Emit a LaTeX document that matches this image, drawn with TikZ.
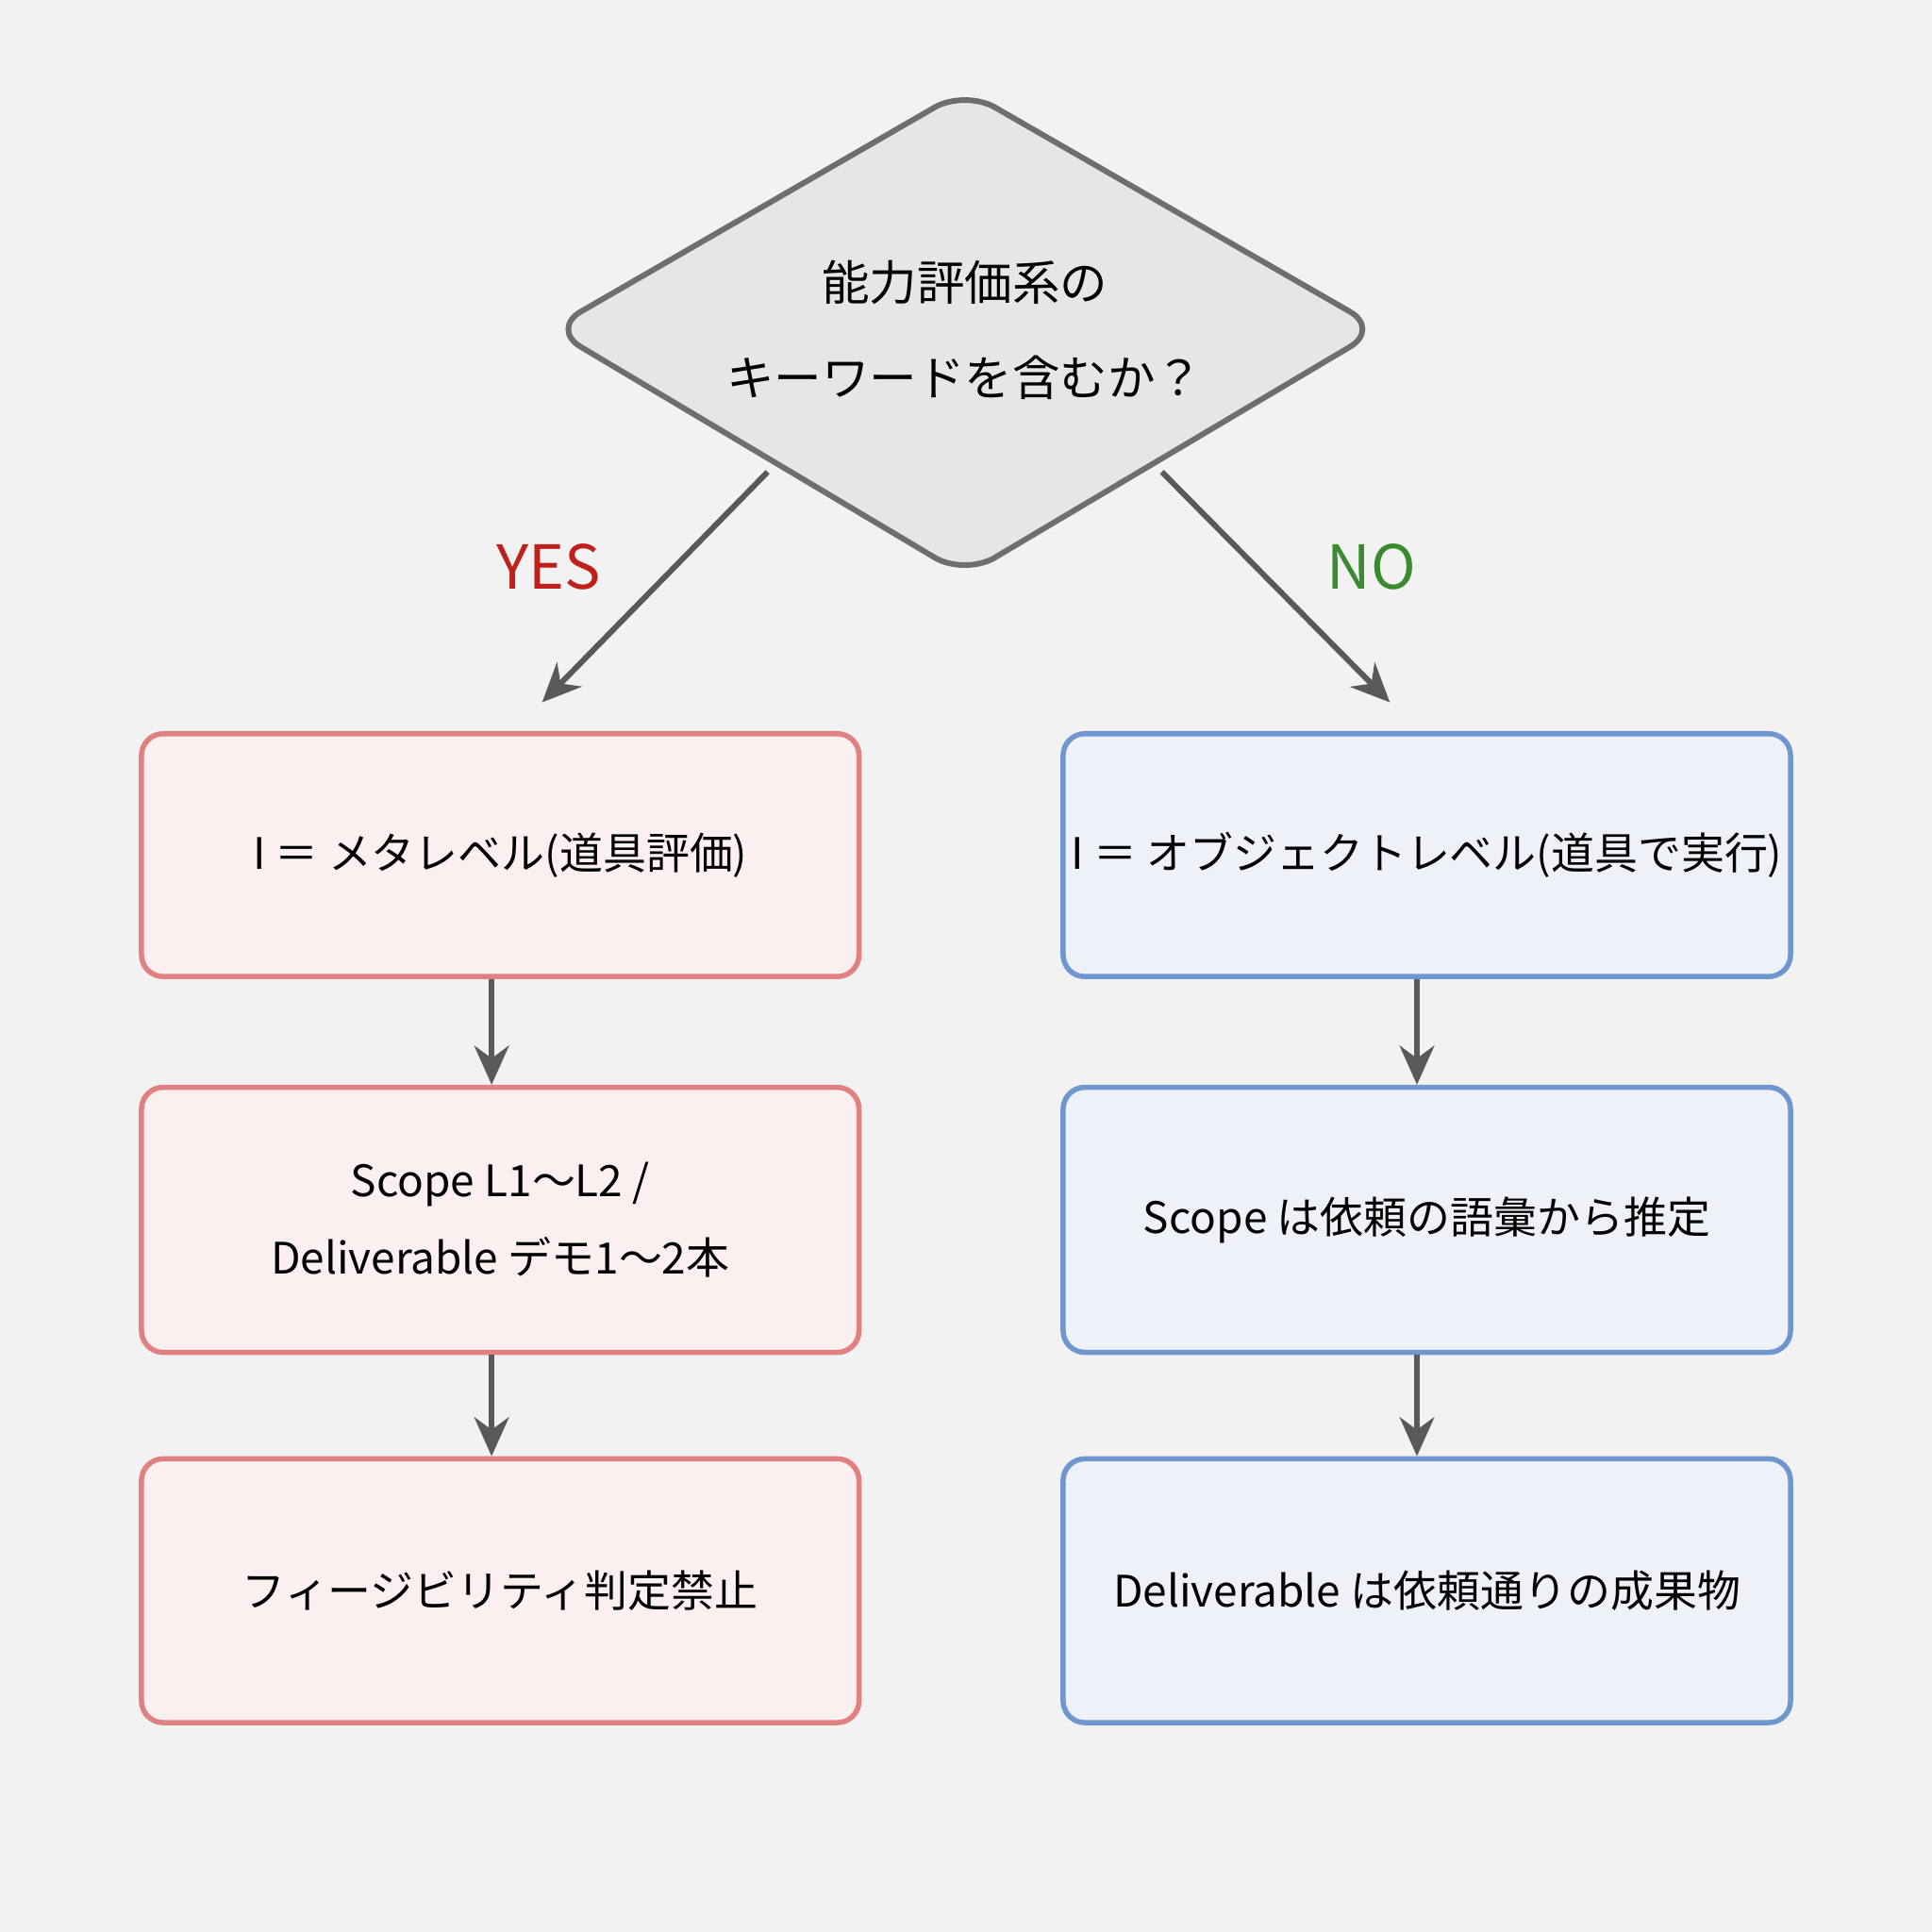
\documentclass[tikz,border=0pt]{standalone}
\usepackage{fontspec}
\setmainfont{Noto Sans CJK JP}
\usetikzlibrary{positioning,arrows.meta}
\definecolor{bg}{HTML}{F2F2F2}
\definecolor{qfill}{HTML}{E6E6E6}
\definecolor{qdraw}{HTML}{6E6E6E}
\definecolor{rdraw}{HTML}{E08080}
\definecolor{rfill}{HTML}{FBEFEF}
\definecolor{bdraw}{HTML}{7096D0}
\definecolor{bfill}{HTML}{EEF2F8}
\definecolor{yescol}{HTML}{C0201C}
\definecolor{nocol}{HTML}{3A8A30}
\tikzset{
  flowbox/.style={draw, line width=1.2pt, rounded corners=5pt, align=center, inner sep=0pt, font=\fontsize{10}{18}\selectfont},
  meta/.style={flowbox, draw=rdraw, fill=rfill, minimum width=5.82cm},
  obj/.style={flowbox, draw=bdraw, fill=bfill, minimum width=5.90cm},
  flow/.style={-{Stealth[length=9pt,width=8pt]}, draw=black!65, line width=1.3pt}
}
\begin{document}
\begin{tikzpicture}[x=0.01cm,y=-0.01cm]
	\fill[bg] (0,0) rectangle (1568,1568);
	\useasboundingbox (0,0) rectangle (1568,1568);

	% decision
	\draw[qdraw, fill=qfill, line width=1.3pt, rounded corners=8pt]
	  (783,73) -- (1120,267) -- (783,467) -- (447,267) -- cycle;
	\node[align=center, font=\fontsize{11}{22}\selectfont] (q) at (783,268) {能力評価系の\\キーワードを含むか？};
	\coordinate (qyes) at (623,383);
	\coordinate (qno) at (943,383);

	% YES branch
	\node[meta, minimum height=1.97cm] (m1) at (406,694) {I ＝ メタレベル(道具評価)};
	\node[meta, minimum height=2.15cm] (m2) at (406,990) {Scope L1〜L2 /\\Deliverable デモ1〜2本};
	\node[meta, minimum height=2.14cm] (m3) at (406,1291) {フィージビリティ判定禁止};

	% NO branch
	\node[obj, minimum height=1.97cm] (o1) at (1158,694) {I ＝ オブジェクトレベル(道具で実行)};
	\node[obj, minimum height=2.15cm] (o2) at (1158,990) {Scope は依頼の語彙から推定};
	\node[obj, minimum height=2.14cm] (o3) at (1158,1291) {Deliverable は依頼通りの成果物};

	\coordinate (yesend) at (440,570);
	\coordinate (noend) at (1128,570);
	\draw[flow] (qyes) -- (yesend);
	\draw[flow] (qno) -- (noend);
	\node[text=yescol, font=\fontsize{14}{16}\selectfont] (yes) at (445,460) {YES};
	\node[text=nocol, font=\fontsize{14}{16}\selectfont] (no) at (1113,460) {NO};

	\draw[flow] (m1.south -| 399,0) -- (m2.north -| 399,0);
	\draw[flow] (m2.south -| 399,0) -- (m3.north -| 399,0);
	\draw[flow] (o1.south -| 1150,0) -- (o2.north -| 1150,0);
	\draw[flow] (o2.south -| 1150,0) -- (o3.north -| 1150,0);
\end{tikzpicture}
\end{document}
